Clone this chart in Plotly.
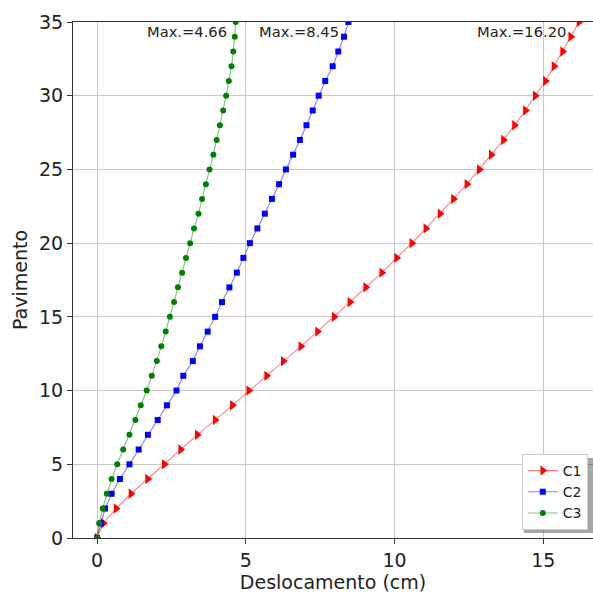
import plotly.graph_objects as go

# ---- data ----
pavimento = list(range(36))
c1 = [0, 0.21, 0.64, 1.14, 1.70, 2.26, 2.81, 3.37, 3.97, 4.55,
      5.10, 5.70, 6.26, 6.85, 7.41, 7.97, 8.50, 9.03, 9.57, 10.07,
      10.58, 11.05, 11.53, 11.98, 12.43, 12.85, 13.25, 13.66, 14.03, 14.40,
      14.73, 15.07, 15.36, 15.65, 15.92, 16.20]
c2 = [0, 0.13, 0.27, 0.49, 0.77, 1.09, 1.40, 1.71, 2.04, 2.35,
      2.67, 2.90, 3.22, 3.46, 3.72, 3.97, 4.20, 4.45, 4.70, 4.92,
      5.14, 5.39, 5.64, 5.88, 6.12, 6.35, 6.59, 6.82, 7.04, 7.25,
      7.45, 7.67, 7.92, 8.11, 8.30, 8.45]
c3 = [0, 0.07, 0.19, 0.33, 0.49, 0.68, 0.88, 1.09, 1.29, 1.47,
      1.67, 1.84, 2.01, 2.16, 2.31, 2.45, 2.59, 2.72, 2.86, 2.99,
      3.13, 3.26, 3.41, 3.53, 3.66, 3.78, 3.91, 4.02, 4.13, 4.24,
      4.34, 4.43, 4.52, 4.58, 4.63, 4.66]
series_names = ["C1", "C2", "C3"]
series_vals = [c1, c2, c3]
x_ticks = [0, 5, 10, 15]
y_ticks = [0, 5, 10, 15, 20, 25, 30, 35]

styles = [
    dict(color="red", line="rgba(255,0,0,0.5)", symbol="triangle-right", size=9),
    dict(color="blue", line="rgba(0,0,255,0.5)", symbol="square", size=6),
    dict(color="green", line="rgba(0,128,0,0.5)", symbol="circle", size=6),
]

FONT = "DejaVu Sans"
fig = go.Figure()
for name, vals, st in zip(series_names, series_vals, styles):
    fig.add_trace(go.Scatter(
        x=vals, y=pavimento, mode="lines+markers", name=name,
        line=dict(color=st["line"], width=1.1),
        marker=dict(color=st["color"], symbol=st["symbol"], size=st["size"],
                    line=dict(width=0)),
    ))

# Max annotations
shifts = [-11, -7, -7]
for vals, sh in zip(series_vals, shifts):
    m = max(vals)
    fig.add_annotation(x=m, y=34.35, xref="x", yref="y", text=f"Max.={m:.2f}",
                       showarrow=False, xanchor="right", yanchor="middle",
                       xshift=sh, font=dict(family=FONT, size=14.7, color="#222"))

# legend shadow (offset right/down)
fig.add_shape(type="rect", xref="paper", yref="paper",
              x0=0.867, x1=1.0, y0=0.0097, y1=0.155,
              fillcolor="rgba(0,0,0,0.35)", line=dict(width=0), layer="above")

axis_common = dict(showgrid=True, gridcolor="#c8c8c8", gridwidth=1,
                   showline=True, linecolor="#333", linewidth=1, mirror=True,
                   ticks="outside", ticklen=5, tickcolor="#333",
                   tickfont=dict(family=FONT, size=19, color="#222"),
                   zeroline=False)

fig.update_layout(
    width=593, height=594,
    margin=dict(l=73, r=0, t=22, b=56),
    paper_bgcolor="white", plot_bgcolor="white",
    font=dict(family=FONT, color="#222"),
    xaxis=dict(range=[-0.807, 16.67], tickvals=x_ticks,
               title=dict(text="Deslocamento (cm)", font=dict(family=FONT, size=19, color="#222"), standoff=4),
               **axis_common),
    yaxis=dict(range=[0, 35], tickvals=y_ticks,
               title=dict(text="Pavimento", font=dict(family=FONT, size=19, color="#222"), standoff=6),
               **axis_common),
    legend=dict(x=0.99, y=0.0155, xanchor="right", yanchor="bottom",
                bgcolor="white", bordercolor="#cccccc", borderwidth=1,
                font=dict(family=FONT, size=14, color="#222")),
    showlegend=True,
)

fig.write_html("out.html", config={"displayModeBar": False},
               post_script="document.body.style.margin='0px';document.body.style.overflow='hidden';")
